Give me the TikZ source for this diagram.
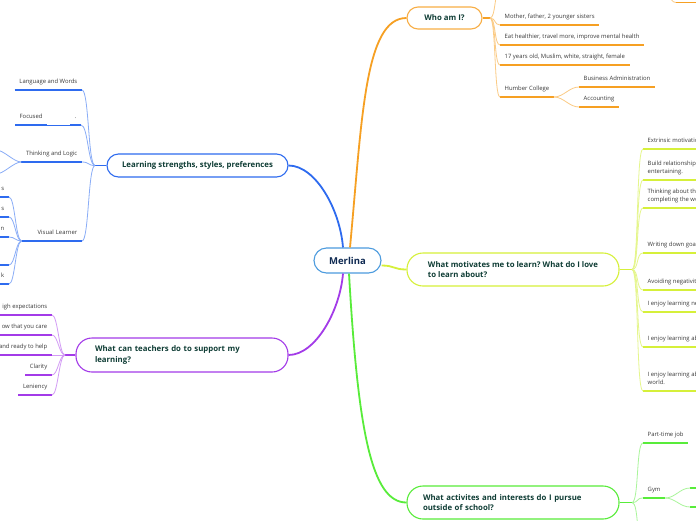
\documentclass[tikz,border=0pt]{standalone}
\usepackage{fontspec}
\setmainfont{Open Sans}
\frenchspacing

\definecolor{orng}{HTML}{F6A023}
\definecolor{orngbox}{HTML}{F8AE45}
\definecolor{orngl}{HTML}{FBCB85}
\definecolor{blu}{HTML}{2E6BEF}
\definecolor{blul}{HTML}{8AADF7}
\definecolor{prpl}{HTML}{A33BE8}
\definecolor{prpll}{HTML}{D29BF5}
\definecolor{ylw}{HTML}{D6F03A}
\definecolor{ylwl}{HTML}{E5F68C}
\definecolor{grn}{HTML}{58EC3A}
\definecolor{grnl}{HTML}{A9F59A}
\definecolor{headtext}{HTML}{0F3D35}
\definecolor{roottext}{HTML}{0F2A52}
\definecolor{rootblue}{HTML}{4C9BDE}
\definecolor{leaftext}{HTML}{3A3A3A}

\tikzset{
  root/.style={draw=rootblue, line width=1.1pt, fill=white, rounded corners=12.5pt,
    minimum width=67pt, minimum height=25pt, inner sep=0pt, text=roottext,
    font=\fontsize{9.5}{11}\selectfont\bfseries},
  topic/.style={draw=#1, line width=1.1pt, fill=white, rounded corners=11pt,
    inner sep=0pt, text=headtext, font=\fontsize{7.8}{10.5}\selectfont\bfseries},
  branch/.style={draw=#1, line width=1.8pt},
  twig/.style={draw=#1, line width=0.8pt},
  ul/.style={draw=#1, line width=1.6pt},
  leaftxt/.style={font=\fontsize{5.9}{8.3}\selectfont, text=leaftext,
    inner xsep=4.5pt, inner ysep=4.3pt,
    execute at end node={\rule[-1.7pt]{0pt}{1.7pt}}},
  leaf/.style={leaftxt, append after command={(\tikzlastnode.south west) edge[ul=#1] (\tikzlastnode.south east)}},
}

\begin{document}
\begin{tikzpicture}[x=1pt, y=-1pt]
\useasboundingbox (0,0) rectangle (696,520);
\clip (0,0) rectangle (696,520);
\fill[white] (0,0) rectangle (696,520);

% centre and main topics
\node[root] (merlina) at (347.5,260.5) {Merlina};
\node[topic=orngbox, minimum width=75pt, minimum height=22pt] (who) at (444.5,18) {Who am I?};
\node[topic=blu, minimum width=181pt, minimum height=23pt, rounded corners=11.5pt] (learn) at (197.5,165.5) {Learning strengths, styles, preferences};
\node[topic=ylw, minimum width=212pt, minimum height=33pt, rounded corners=16pt, align=left] (motiv) at (513,269.5) {What motivates me to learn? What do I love\\to learn about?};
\node[topic=prpl, minimum width=212pt, minimum height=34pt, rounded corners=16pt, text width=174pt, inner xsep=19pt, align=left] (teach) at (182,355) {What can teachers do to support my\\learning?};
\node[topic=grn, minimum width=212pt, minimum height=33pt, rounded corners=16pt, text width=180pt, inner xsep=16pt, align=left] (act) at (513,502.5) {What activites and interests do I pursue\\outside of school?};

\draw[branch=orng] ([xshift=2.5pt]merlina.north) .. controls +(12,-128) and +(-42,0) .. (who.west);
\draw[branch=blu] ([xshift=-4.5pt]merlina.north) .. controls +(-3,-38) and +(27,0) .. (learn.east);
\draw[branch=prpl] ([xshift=-4.5pt]merlina.south) .. controls +(-3,37) and +(27,0) .. (teach.east);
\draw[branch=grn] ([xshift=1.5pt]merlina.south) .. controls +(9,157) and +(-35,0) .. (act.west);
\draw[branch=ylw] ([yshift=-5pt]merlina.east) .. controls +(13,0) and +(-13,0) .. (motiv.west);

% who am I
\coordinate (whoj) at (490,18);
\draw[branch=orng] (who.east) -- (whoj);
\node[leaf=orng, anchor=south west] (family) at (500,25) {Mother, father, 2 younger sisters};
\node[leaf=orng, anchor=south west] (goals) at (500,45) {Eat healthier, travel more, improve mental health};
\node[leaf=orng, anchor=south west] (facts) at (500,65) {17 years old, Muslim, white, straight, female};
\node[leaf=orng, anchor=south west] (humber) at (500,97) {Humber College};
\node[leaf=orng, anchor=south west] (busadmin) at (579,87) {Business Administration};
\node[leaf=orng, anchor=south west] (acct) at (579,107) {Accounting};
\coordinate (whotop) at (500,-10);
\coordinate (whofarup) at (662,-14);
\coordinate (whofar) at (676,2.5);
\foreach \n in {family,goals,facts,humber}
  \draw[twig=orngl] (whoj) .. controls +(6,0) and +(-6,0) .. (\n.south west);
\draw[twig=orngl] (whoj) .. controls +(6,0) and +(-6,0) .. (whotop);
\draw[twig=orngl] (humber.south east) .. controls +(10,0) and +(-10,0) .. (busadmin.south west);
\draw[twig=orngl] (humber.south east) .. controls +(10,0) and +(-10,0) .. (acct.south west);
\draw[twig=orngl] (whofarup) .. controls +(8,0) and +(-8,0) .. (whofar);
\draw[ul=orng] (whofar) -- +(30,0);

% learning strengths
\coordinate (learnj) at (95,165.5);
\draw[branch=blu] (learn.west) -- (learnj);
\node[leaf=blu, anchor=south east] (lang) at (82,90) {Language and Words};
\node[leaftxt, anchor=south west] (focused) at (15,125) {Focused};
\node[leaftxt, anchor=south east] (focusdot) at (81,125) {.};
\draw[ul=blu] (focused.south west) -- (focused.south east);
\draw[ul=blu] (focusdot.south west) -- (focusdot.south east);
\draw[twig=blu] (focused.south east) -- (focusdot.south west);
\node[leaf=blu, anchor=south east] (think) at (82,162) {Thinking and Logic};
\node[leaf=blu, anchor=south east, text width=51pt, align=right] (visual) at (82,241) {Visual Learner};
\foreach \n in {lang,focusdot,think,visual}
  \draw[twig=blul] (learnj) .. controls +(-7,0) and +(7,0) .. (\n.south east);
\coordinate (thinkup) at (-4,150);
\coordinate (thinkdn) at (-4,174);
\draw[twig=blul] (think.south west) .. controls +(-8,0) and +(8,0) .. (thinkup);
\draw[twig=blul] (think.south west) .. controls +(-8,0) and +(8,0) .. (thinkdn);
\node[leaf=blu, anchor=south east] (vis1) at (9,197) {s};
\node[leaf=blu, anchor=south east] (vis2) at (9,217) {s};
\node[leaf=blu, anchor=south east] (vis3) at (9,237) {n};
\coordinate (vis4) at (9,265);
\draw[ul=blu] (vis4) -- +(-20,0);
\node[leaf=blu, anchor=south east] (vis5) at (9,284) {k};
\foreach \n in {vis1,vis2,vis3,vis5}
  \draw[twig=blul] (visual.south west) .. controls +(-6,0) and +(6,0) .. (\n.south east);
\draw[twig=blul] (visual.south west) .. controls +(-6,0) and +(6,0) .. (vis4);

% teachers
\coordinate (teachj) at (65,355);
\draw[branch=prpl] (teach.west) -- (teachj);
\node[leaf=prpl, anchor=south east] (expect) at (52,315) {igh expectations};
\node[leaf=prpl, anchor=south east] (care) at (52,335) {ow that you care};
\node[leaf=prpl, anchor=south east] (help) at (52,355) {and ready to help};
\node[leaf=prpl, anchor=south east] (clarity) at (52,375) {Clarity};
\node[leaf=prpl, anchor=south east] (lenient) at (52,395) {Leniency};
\foreach \n in {expect,care,help,clarity,lenient}
  \draw[twig=prpll] (teachj) .. controls +(-6,0) and +(6,0) .. (\n.south east);

% motivation
\coordinate (motj) at (632,269.5);
\draw[branch=ylw] (motiv.east) -- (motj);
\node[leaf=ylw, anchor=south west] (extr) at (643,149) {Extrinsic motivation};
\node[leaf=ylw, anchor=south west, align=left] (build) at (643,180) {Build relationships\\entertaining.};
\node[leaf=ylw, anchor=south west, align=left] (thinkw) at (643,208) {Thinking about the\\completing the work};
\node[leaf=ylw, anchor=south west] (writing) at (643,253) {Writing down goals};
\node[leaf=ylw, anchor=south west] (avoid) at (643,290) {Avoiding negativity};
\node[leaf=ylw, anchor=south west] (enjoya) at (643,312) {I enjoy learning new};
\node[leaf=ylw, anchor=south west] (enjoyb) at (643,347) {I enjoy learning about};
\node[leaf=ylw, anchor=south west, align=left] (enjoyc) at (643,391) {I enjoy learning about\\world.};
\foreach \n in {extr,build,thinkw,writing,avoid,enjoya,enjoyb,enjoyc}
  \draw[twig=ylwl] (motj) .. controls +(7,0) and +(-7,0) .. (\n.south west);

% activities
\coordinate (actj) at (632,502.5);
\draw[branch=grn] (act.east) -- (actj);
\node[leaf=grn, anchor=south west] (job) at (643,443) {Part-time job};
\node[leaf=grn, anchor=south west] (gym) at (643,498) {Gym};
\coordinate (actdown) at (643,545);
\foreach \n in {job,gym}
  \draw[twig=grnl] (actj) .. controls +(7,0) and +(-7,0) .. (\n.south west);
\draw[twig=grnl] (actj) .. controls +(7,0) and +(-7,0) .. (actdown);
\coordinate (gyma) at (690,488);
\coordinate (gymb) at (690,507);
\draw[ul=grn] (gyma) -- +(20,0);
\draw[ul=grn] (gymb) -- +(20,0);
\draw[twig=grnl] (gym.south east) .. controls +(10,0) and +(-10,0) .. (gyma);
\draw[twig=grnl] (gym.south east) .. controls +(10,0) and +(-10,0) .. (gymb);
\end{tikzpicture}
\end{document}
